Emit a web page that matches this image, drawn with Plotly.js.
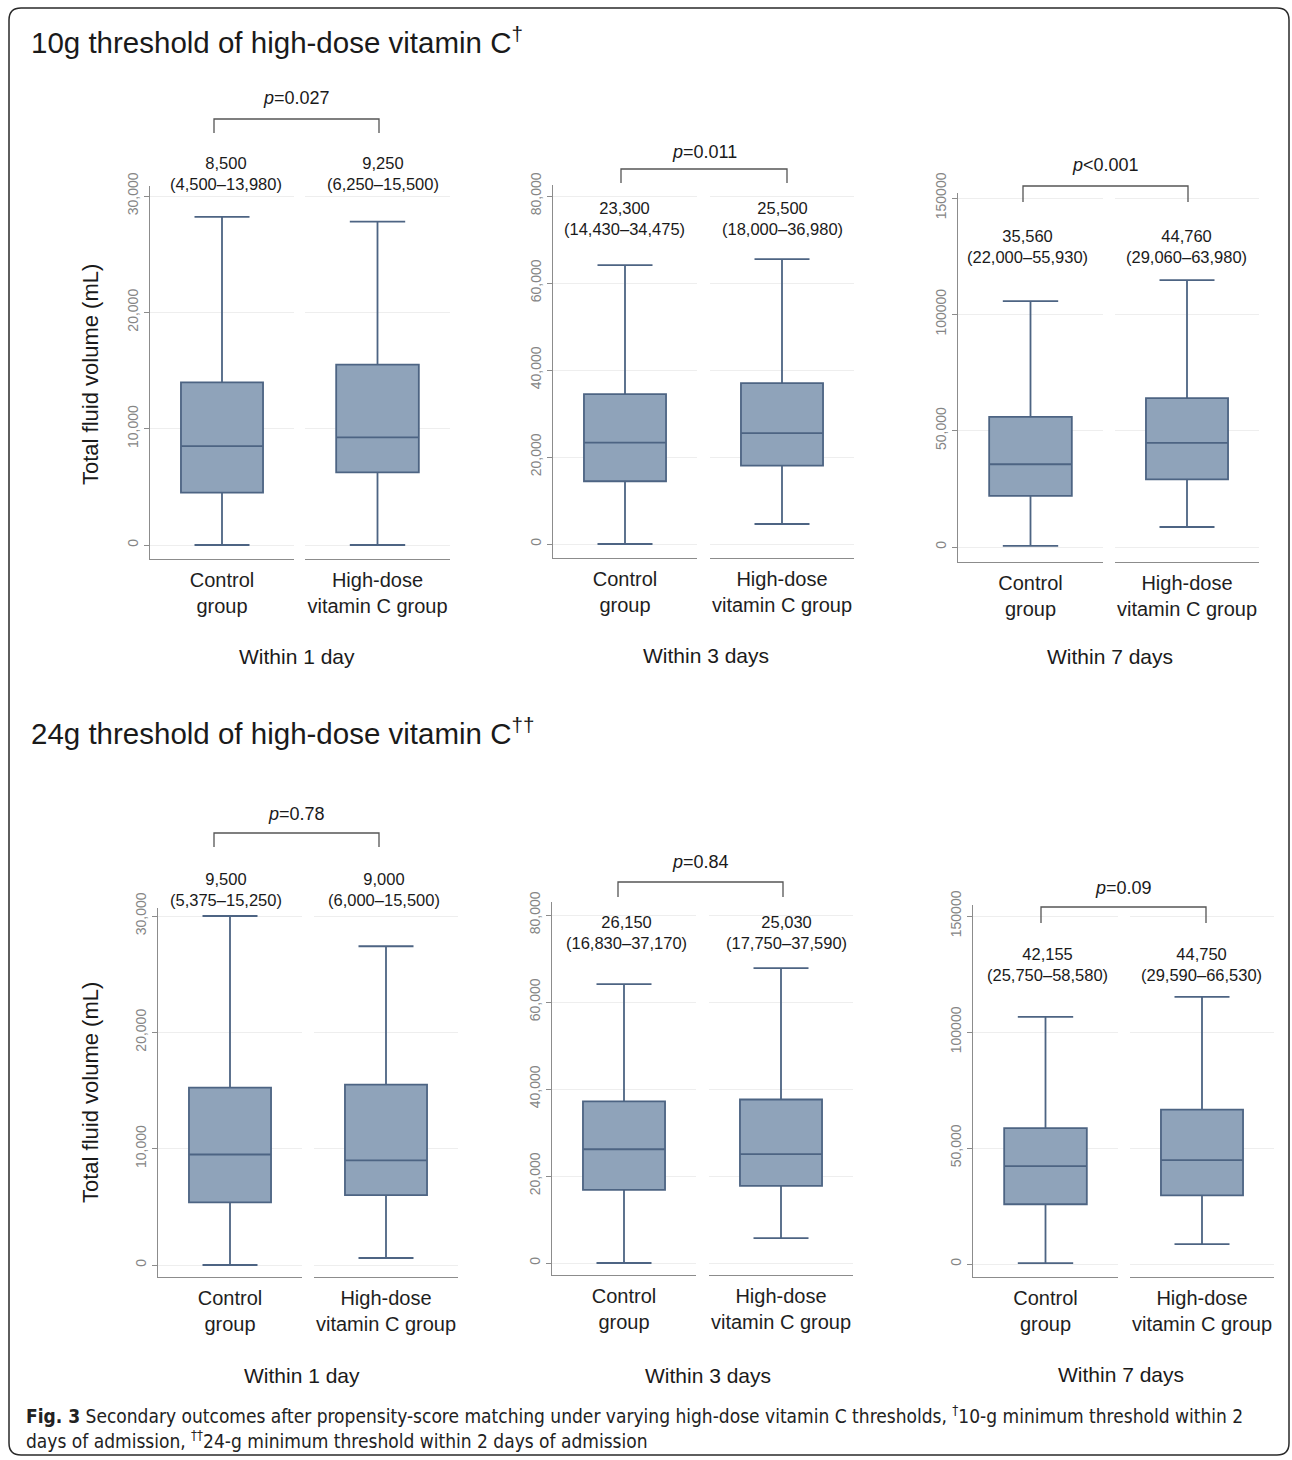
<!DOCTYPE html>
<html><head><meta charset="utf-8">
<script src="https://cdn.plot.ly/plotly-3.0.1.min.js"></script>
<style>html,body{margin:0;padding:0;background:#fff}</style>
</head><body><div id="chart" style="width:1292px;height:1460px"></div>
<script>
// ---------- data ----------
const categories = ['Control<br>group', 'High-dose<br>vitamin C group'];
const periods = ['Within 1 day', 'Within 3 days', 'Within 7 days'];
const panelTitles = ['10g threshold of high-dose vitamin C<sup>†</sup>', '24g threshold of high-dose vitamin C<sup>††</sup>'];
// per panel: [control, high-dose]; panels 1-3 = 10g threshold, 4-6 = 24g threshold
const q1Values     = [[4500, 6250], [14430, 18000], [22000, 29060], [5375, 6000], [16830, 17750], [25750, 29590]];
const medianValues = [[8500, 9250], [23300, 25500], [35560, 44760], [9500, 9000], [26150, 25030], [42155, 44750]];
const q3Values     = [[13980, 15500], [34475, 36980], [55930, 63980], [15250, 15500], [37170, 37590], [58580, 66530]];
const lowerWhisker = [[0, 0], [0, 4600], [500, 8600], [0, 600], [0, 5700], [400, 8600]];
const upperWhisker = [[28200, 27800], [64100, 65500], [105700, 114700], [30000, 27400], [64100, 67800], [106500, 115100]];
const pValues = ['<i>p</i>=0.027', '<i>p</i>=0.011', '<i>p</i>&lt;0.001', '<i>p</i>=0.78', '<i>p</i>=0.84', '<i>p</i>=0.09'];
const tickVals = [[0, 10000, 20000, 30000], [0, 20000, 40000, 60000, 80000], [0, 50000, 100000, 150000]];
const tickText = [['0', '10,000', '20,000', '30,000'], ['0', '20,000', '40,000', '60,000', '80,000'], ['0', '50,000', '100000', '150000']];
const yTitle = 'Total fluid volume (mL)';
const caption = '<b>Fig. 3</b> Secondary outcomes after propensity-score matching under varying high-dose vitamin C thresholds, <sup>†</sup>10-g minimum threshold within 2<br>days of admission, <sup>††</sup>24-g minimum threshold within 2 days of admission';

// ---------- layout geometry (pixels) ----------
const W = 1292, H = 1460;
const geom = [
  {seg: [[150, 294], [305, 450]], top: 186, bot: 559, y0: 545, yt: 196, vt: 30000, br: [214, 379, 119, 133], pY: 98, medY: 173.5, medX: [226, 383], wX: 297, wY: 657},
  {seg: [[553, 697], [710, 854]], top: 185, bot: 558, y0: 544, yt: 196, vt: 80000, br: [621, 787, 169, 183], pY: 152, medY: 218, medX: [624, 782], wX: 706, wY: 656},
  {seg: [[958, 1103], [1115, 1259]], top: 193, bot: 562, y0: 547, yt: 198, vt: 150000, br: [1023, 1188, 186, 202], pY: 165, medY: 247, medX: [1027, 1186], wX: 1110, wY: 657},
  {seg: [[158, 302], [314, 458]], top: 908, bot: 1277, y0: 1265, yt: 916, vt: 30000, br: [214, 379, 833, 847], pY: 814, medY: 889.5, medX: [226, 384], wX: 302, wY: 1375},
  {seg: [[552, 696], [709, 853]], top: 902, bot: 1275, y0: 1263, yt: 915, vt: 80000, br: [618, 783, 882, 897], pY: 862, medY: 932, medX: [626, 786], wX: 708, wY: 1375},
  {seg: [[973, 1118], [1130, 1274]], top: 905, bot: 1277, y0: 1264, yt: 916, vt: 150000, br: [1041, 1206, 907, 923], pY: 888, medY: 964.5, medX: [1047, 1201], wX: 1121, wY: 1374}
];
const px = x => x / W, py = y => 1 - y / H;
const fmt = v => v.toLocaleString('en-US');
const FONT = 'Liberation Sans, Arial, Helvetica, sans-serif';
const BOXFILL = '#8fa3ba', BOXLINE = '#4d6483', AXIS = '#8c8c8c';

const data = [];
const layout = {
  width: W, height: H, margin: {l: 0, r: 0, t: 0, b: 0},
  paper_bgcolor: '#ffffff', plot_bgcolor: 'rgba(0,0,0,0)', showlegend: false,
  font: {family: FONT, color: '#1a1a1a'},
  annotations: [], shapes: []
};

geom.forEach((g, i) => {
  const p = i + 1;
  const yId = 'y' + (p === 1 ? '' : p);
  const k = (g.y0 - g.yt) / g.vt;
  const xIds = [2 * i + 1, 2 * i + 2].map(n => 'x' + (n === 1 ? '' : n));
  layout['yaxis' + (p === 1 ? '' : p)] = {
    domain: [py(g.bot), py(g.top)],
    range: [-(g.bot - g.y0) / k, (g.y0 - g.top) / k],
    anchor: xIds[0],
    tickmode: 'array', tickvals: tickVals[i % 3], ticktext: tickText[i % 3],
    tickangle: -90, tickfont: {size: 14, color: '#858585', family: FONT},
    ticks: 'outside', ticklen: 5, tickcolor: AXIS, tickwidth: 1,
    showline: true, linecolor: AXIS, linewidth: 1.3,
    showgrid: true, gridcolor: '#eeeeee', gridwidth: 1,
    zeroline: false, fixedrange: true
  };
  xIds.forEach((xId, j) => {
    layout['xaxis' + xId.slice(1)] = {
      domain: [px(g.seg[j][0]), px(g.seg[j][1])],
      anchor: yId, type: 'category', range: [-0.5, 0.5],
      showline: true, linecolor: AXIS, linewidth: 1.3,
      showgrid: false, zeroline: false, ticks: '', ticklabelstandoff: 3,
      tickfont: {size: 20, color: '#1e1e1e', family: FONT},
      fixedrange: true
    };
    data.push({
      type: 'box', orientation: 'v', x: [categories[j]],
      q1: [q1Values[i][j]], median: [medianValues[i][j]], q3: [q3Values[i][j]],
      lowerfence: [lowerWhisker[i][j]], upperfence: [upperWhisker[i][j]],
      xaxis: xId, yaxis: yId, width: 0.57, whiskerwidth: 0.67,
      fillcolor: BOXFILL, line: {color: BOXLINE, width: 1.8},
      boxpoints: false, hoverinfo: 'skip'
    });
    layout.annotations.push({
      xref: 'paper', yref: 'paper', x: px(g.medX[j]), y: py(g.medY),
      xanchor: 'center', yanchor: 'middle', showarrow: false,
      text: fmt(medianValues[i][j]) + '<br>(' + fmt(q1Values[i][j]) + '–' + fmt(q3Values[i][j]) + ')',
      font: {size: 16.5, color: '#1a1a1a', family: FONT}
    });
  });
  // significance bracket
  const [xl, xr, yb, yd] = g.br;
  layout.shapes.push({
    type: 'path', xref: 'paper', yref: 'paper',
    path: `M ${px(xl)},${py(yd)} L ${px(xl)},${py(yb)} L ${px(xr)},${py(yb)} L ${px(xr)},${py(yd)}`,
    line: {color: '#555555', width: 1.3}
  });
  layout.annotations.push({
    xref: 'paper', yref: 'paper', x: px((xl + xr) / 2), y: py(g.pY),
    xanchor: 'center', yanchor: 'middle', showarrow: false,
    text: pValues[i], font: {size: 18, color: '#1a1a1a', family: FONT}
  });
  layout.annotations.push({
    xref: 'paper', yref: 'paper', x: px(g.wX), y: py(g.wY),
    xanchor: 'center', yanchor: 'middle', showarrow: false,
    text: periods[i % 3], font: {size: 21, color: '#1a1a1a', family: FONT}
  });
});

// y-axis titles
[375, 1093].forEach(y => layout.annotations.push({
  xref: 'paper', yref: 'paper', x: px(90), y: py(y), textangle: -90,
  xanchor: 'center', yanchor: 'middle', showarrow: false,
  text: yTitle, font: {size: 22, color: '#1a1a1a', family: FONT}
}));
// section titles
[40, 731].forEach((y, i) => layout.annotations.push({
  xref: 'paper', yref: 'paper', x: px(29), y: py(y),
  xanchor: 'left', yanchor: 'middle', showarrow: false,
  text: panelTitles[i], font: {size: 29.5, color: '#1a1a1a', family: FONT}
}));
// caption
layout.annotations.push({
  xref: 'paper', yref: 'paper', x: px(24), y: py(1427),
  xanchor: 'left', yanchor: 'middle', align: 'left', showarrow: false,
  text: caption, font: {size: 19, color: '#222222', family: 'Liberation Sans Narrow, DejaVu Sans Condensed, sans-serif'}
});
// rounded frame
(function () {
  const x0 = 9, y0 = 8, x1 = 1289, y1 = 1455, r = 12;
  const P = (x, y) => px(x) + ',' + py(y);
  layout.shapes.push({
    type: 'path', xref: 'paper', yref: 'paper', layer: 'below',
    path: `M ${P(x0 + r, y0)} L ${P(x1 - r, y0)} Q ${P(x1, y0)} ${P(x1, y0 + r)} L ${P(x1, y1 - r)} Q ${P(x1, y1)} ${P(x1 - r, y1)} L ${P(x0 + r, y1)} Q ${P(x0, y1)} ${P(x0, y1 - r)} L ${P(x0, y0 + r)} Q ${P(x0, y0)} ${P(x0 + r, y0)} Z`,
    line: {color: '#2a2a2a', width: 1.5}
  });
})();

Plotly.newPlot('chart', data, layout, {staticPlot: true, displayModeBar: false});
</script></body></html>
